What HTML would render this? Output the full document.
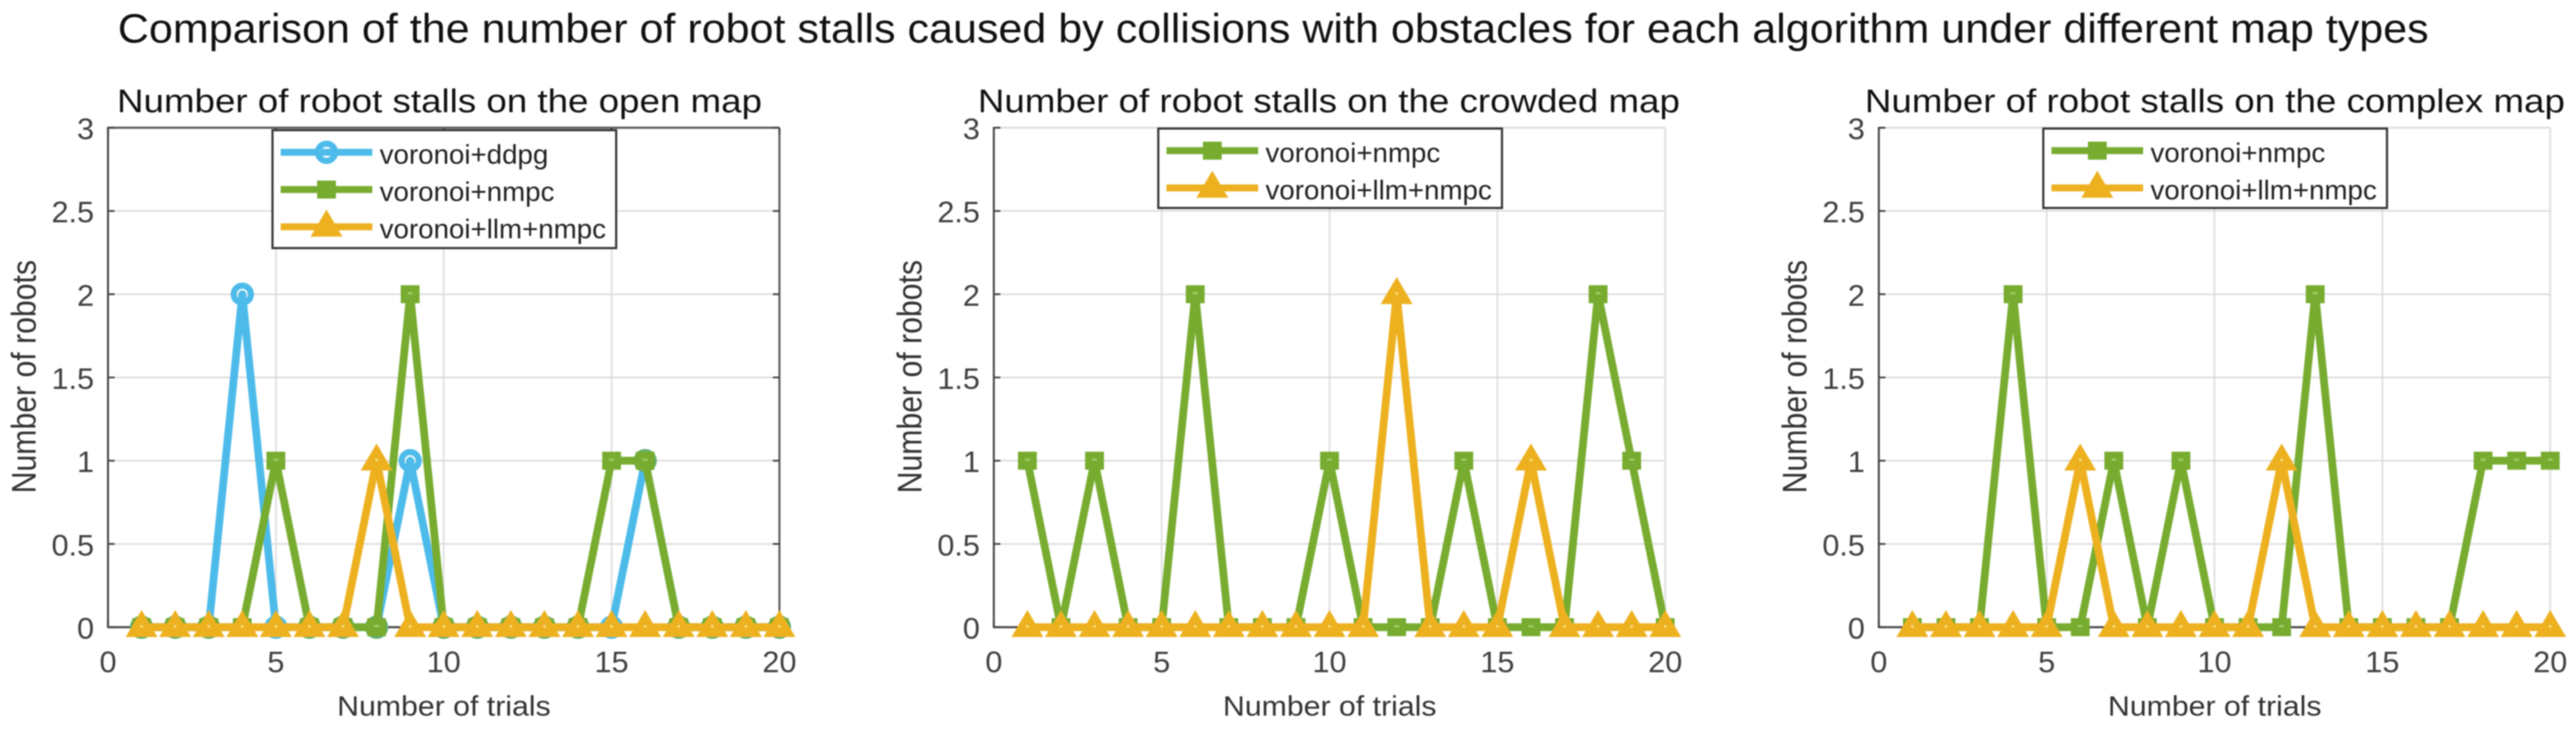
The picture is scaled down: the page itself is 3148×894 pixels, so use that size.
<!DOCTYPE html>
<html lang="en">
<head>
<meta charset="utf-8">
<title>Robot stalls comparison</title>
<style>
html,body{margin:0;padding:0;background:#fff;width:3148px;height:894px;overflow:hidden}
svg{display:block;filter:blur(0.7px)}
text{font-family:"Liberation Sans",Arial,sans-serif}
</style>
</head>
<body>
<svg id="figure" xmlns="http://www.w3.org/2000/svg" width="3148" height="894" viewBox="0 0 3148 894">
  <rect width="3148" height="894" fill="#fff"/>
  <text x="144" y="52" font-size="50" fill="#111" textLength="2824" lengthAdjust="spacingAndGlyphs">Comparison of the number of robot stalls caused by collisions with obstacles for each algorithm under different map types</text>

  <g id="panel-open">
    <g id="plot-open"></g>
    <text transform="translate(143,137) scale(1.122,1)" font-size="40" fill="#111">Number of robot stalls on the open map</text>
    <text transform="translate(542.5,874) scale(1.088,1)" text-anchor="middle" font-size="34" fill="#333">Number of trials</text>
    <text transform="translate(43.5,460) rotate(-90) scale(1,1.12)" text-anchor="middle" font-size="36.9" fill="#333">Number of robots</text>
  </g>

  <g id="panel-crowded">
    <g id="plot-crowded"></g>
    <text transform="translate(1195,137) scale(1.122,1)" font-size="40" fill="#111">Number of robot stalls on the crowded map</text>
    <text transform="translate(1625,874) scale(1.088,1)" text-anchor="middle" font-size="34" fill="#333">Number of trials</text>
    <text transform="translate(1126,460) rotate(-90) scale(1,1.12)" text-anchor="middle" font-size="36.9" fill="#333">Number of robots</text>
  </g>

  <g id="panel-complex">
    <g id="plot-complex"></g>
    <text transform="translate(2279,137) scale(1.122,1)" font-size="40" fill="#111">Number of robot stalls on the complex map</text>
    <text transform="translate(2706.5,874) scale(1.088,1)" text-anchor="middle" font-size="34" fill="#333">Number of trials</text>
    <text transform="translate(2207.5,460) rotate(-90) scale(1,1.12)" text-anchor="middle" font-size="36.9" fill="#333">Number of robots</text>
  </g>
</svg>

<script>
// Chart data
const trials = [1,2,3,4,5,6,7,8,9,10,11,12,13,14,15,16,17,18,19,20];
const xTickLabels = [0,5,10,15,20];
const yTickLabels = [0,0.5,1,1.5,2,2.5,3];

const openDdpg = [0,0,0,2,0,0,0,0,1,0,0,0,0,0,0,1,0,0,0,0];
const openNmpc = [0,0,0,0,1,0,0,0,2,0,0,0,0,0,1,1,0,0,0,0];
const openLlm  = [0,0,0,0,0,0,0,1,0,0,0,0,0,0,0,0,0,0,0,0];

const crowdedNmpc = [1,0,1,0,0,2,0,0,0,1,0,0,0,1,0,0,0,2,1,0];
const crowdedLlm  = [0,0,0,0,0,0,0,0,0,0,0,2,0,0,0,1,0,0,0,0];

const complexNmpc = [0,0,0,2,0,0,1,0,1,0,0,0,2,0,0,0,0,1,1,1];
const complexLlm  = [0,0,0,0,0,1,0,0,0,0,0,1,0,0,0,0,0,0,0,0];

const BLUE = '#4DBBEA', GREEN = '#77AC30', ORANGE = '#EDB120', MIX = '#62AE72';
const NS = 'http://www.w3.org/2000/svg';

function mk(parent, tag, attrs) {
  const el = document.createElementNS(NS, tag);
  for (const k in attrs) el.setAttribute(k, attrs[k]);
  parent.appendChild(el);
  return el;
}

function drawMarker(g, kind, cx, cy, color, showCenter) {
  if (kind === 'circle') {
    const m = mk(g, 'circle', {cx: cx, cy: cy, r: 10.5, fill: 'none', stroke: color, 'stroke-width': 7.5});
    
    
  } else if (kind === 'square') {
    const m = mk(g, 'rect', {x: cx - 11.5, y: cy - 11, width: 23, height: 22, fill: color});
    
    
    if (showCenter) {
      const d = mk(g, 'rect', {x: cx - 3, y: cy - 2.5, width: 6, height: 2.5, fill: '#A6CC6E'});
      
      
    }
  } else {
    const pts = (cx - 19.5) + ',' + (cy + 12) + ' ' + (cx + 19.5) + ',' + (cy + 12) + ' ' + cx + ',' + (cy - 21);
    const m = mk(g, 'polygon', {points: pts, fill: color});
    
    
    if (showCenter) {
      const d = mk(g, 'rect', {x: cx - 1.5, y: cy - 2.5, width: 3, height: 3, fill: '#F8DC90'});
      
      
    }
  }
}

function drawPanel(cfg) {
  const root = document.getElementById(cfg.id);
  const L = cfg.left, R = cfg.left + 820.5, T = 156, B = 766;
  const sx = v => L + (v / 20) * (R - L);
  const sy = v => B - (v / 3) * (B - T);

  const bg = mk(root, 'rect', {x: L, y: T, width: R - L, height: B - T, fill: '#fff'});
  
  

  // grid lines
  xTickLabels.forEach(v => {
    if (v === 0) return;
    const gl = mk(root, 'line', {x1: sx(v), x2: sx(v), y1: T, y2: B, stroke: '#dedede', 'stroke-width': 2});
    
    
  });
  yTickLabels.forEach(v => {
    if (v === 0) return;
    const gl = mk(root, 'line', {x1: L, x2: R, y1: sy(v), y2: sy(v), stroke: '#dcdcdc', 'stroke-width': 2});
    
    
  });

  // axis frame
  const axisColor = '#444';
  const boxColor = cfg.box ? '#555' : '#e0e0e0';
  const top = mk(root, 'line', {x1: L, x2: R, y1: T, y2: T, stroke: boxColor, 'stroke-width': 2.4});
  
  
  const right = mk(root, 'line', {x1: R, x2: R, y1: T, y2: B, stroke: boxColor, 'stroke-width': 2.4});
  
  
  const left = mk(root, 'line', {x1: L, x2: L, y1: T - 1, y2: B + 1, stroke: axisColor, 'stroke-width': 2.4});
  
  
  const bottom = mk(root, 'line', {x1: L, x2: R, y1: B, y2: B, stroke: axisColor, 'stroke-width': 2.4});
  
  

  // ticks and labels
  yTickLabels.forEach(v => {
    const t = mk(root, 'line', {x1: L, x2: L + 8, y1: sy(v), y2: sy(v), stroke: axisColor, 'stroke-width': 2.2});
    
    
    if (cfg.box) {
      const t2 = mk(root, 'line', {x1: R - 8, x2: R, y1: sy(v), y2: sy(v), stroke: axisColor, 'stroke-width': 2.2});
      
      
    }
    const lab = mk(root, 'text', {transform: 'translate(' + (L - 17) + ',' + (sy(v) + 14) + ') scale(1.04,1)', 'text-anchor': 'end', 'font-size': 36, fill: '#404040'});
    lab.textContent = String(v);
    
    
  });
  xTickLabels.forEach(v => {
    const t = mk(root, 'line', {x1: sx(v), x2: sx(v), y1: B - 8, y2: B, stroke: axisColor, 'stroke-width': 2.2});
    
    
    if (cfg.box) {
      const t2 = mk(root, 'line', {x1: sx(v), x2: sx(v), y1: T, y2: T + 8, stroke: axisColor, 'stroke-width': 2.2});
      
      
    }
    const lab = mk(root, 'text', {transform: 'translate(' + sx(v) + ',821) scale(1.04,1)', 'text-anchor': 'middle', 'font-size': 36, fill: '#404040'});
    lab.textContent = String(v);
    
    
  });

  // series
  cfg.series.forEach((s, si) => {
    const g = mk(root, 'g', {});
    
    
    const pts = trials.map((t, i) => sx(t) + ',' + sy(s.values[i])).join(' ');
    const line = mk(g, 'polyline', {points: pts, fill: 'none', stroke: s.color, 'stroke-width': 9.5, 'stroke-linejoin': 'round'});
    
    
    trials.forEach((t, i) => {
      let color = s.color;
      if (s.marker === 'circle' && cfg.series[si + 1] && cfg.series[si + 1].values[i] === s.values[i]) color = MIX;
      drawMarker(g, s.marker, sx(t), sy(s.values[i]), color, true);
    });
  });

  // legend
  const lg = mk(root, 'g', {});
  
  
  const box = mk(lg, 'rect', {x: L + 201, y: cfg.legendTop, width: 420, height: cfg.legendHeight, fill: '#fff', stroke: '#333', 'stroke-width': 2.6});
  
  
  cfg.series.forEach((s, i) => {
    const y = cfg.legendTop + 27 + i * 45.5;
    const ll = mk(lg, 'line', {x1: L + 211, x2: L + 323, y1: y, y2: y, stroke: s.color, 'stroke-width': 8.5});
    
    
    drawMarker(lg, s.marker, L + 267, y, s.color, false);
    const tx = mk(lg, 'text', {transform: 'translate(' + (L + 332) + ',' + (y + 14) + ') scale(1.02,1)', 'font-size': 33.2, fill: '#222'});
    tx.textContent = s.name;
    
    
  });
}

drawPanel({id: 'plot-open', left: 132, box: true, legendTop: 159, legendHeight: 144, series: [
  {name: 'voronoi+ddpg', values: openDdpg, color: BLUE, marker: 'circle'},
  {name: 'voronoi+nmpc', values: openNmpc, color: GREEN, marker: 'square'},
  {name: 'voronoi+llm+nmpc', values: openLlm, color: ORANGE, marker: 'triangle'}
]});
drawPanel({id: 'plot-crowded', left: 1214.5, box: false, legendTop: 157, legendHeight: 97, series: [
  {name: 'voronoi+nmpc', values: crowdedNmpc, color: GREEN, marker: 'square'},
  {name: 'voronoi+llm+nmpc', values: crowdedLlm, color: ORANGE, marker: 'triangle'}
]});
drawPanel({id: 'plot-complex', left: 2296, box: false, legendTop: 157, legendHeight: 97, series: [
  {name: 'voronoi+nmpc', values: complexNmpc, color: GREEN, marker: 'square'},
  {name: 'voronoi+llm+nmpc', values: complexLlm, color: ORANGE, marker: 'triangle'}
]});
</script>
</body>
</html>
